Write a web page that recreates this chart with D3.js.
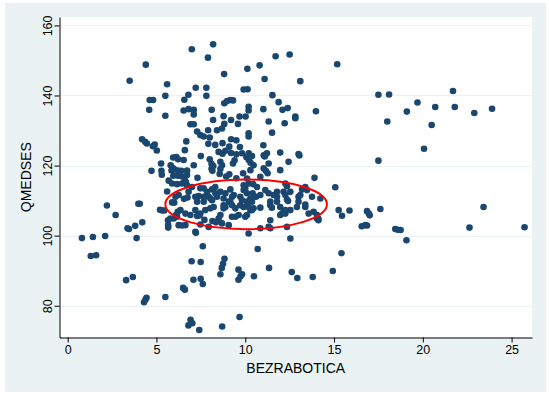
<!DOCTYPE html>
<html><head><meta charset="utf-8">
<script src="https://cdn.jsdelivr.net/npm/d3@7"></script>
<style>body{margin:0;background:#fff} text{font-family:"Liberation Sans",Arial,sans-serif}</style>
</head><body><svg id="c" width="549" height="396"></svg>
<script>
// [BEZRABOTICA, QMEDSES]
const observations = [
[8.19,154.6],[6.99,153.2],[7.9,150.8],[11.71,151.2],[12.5,151.7],[4.4,148.8],[10.81,148.6],[15.18,148.9],[10.12,147.6],[8.81,146.1],[11.09,144.7],[3.49,144.2],[13.1,144.1],[5.6,143.2],[7.21,142.2],[7.81,142.2],[9.91,141.7],[10.13,141.8],[21.7,141.3],[6.8,140.2],[7.81,139.9],[5.5,139.9],[11.53,140.1],[17.5,140.2],[18.1,140.3],[4.62,138.7],[4.81,138.7],[6.57,138.8],[8.82,137.8],[8.98,138.4],[9.16,138.7],[9.31,138.6],[11.88,138.1],[19.7,138.0],
[4.59,135.9],[6.53,135.7],[6.81,136.1],[7.1,135.9],[7.1,134.6],[8.11,135.9],[10.19,136.8],[10.19,135.7],[11.02,136.1],[12.1,135.9],[12.39,136.4],[13.98,135.5],[20.7,136.7],[21.8,136.7],[22.9,135.0],[23.9,136.2],[19.1,135.4],[5.5,134.2],[8.78,134.1],[9.68,134.0],[10.02,134.0],[12.82,134.0],[12.82,133.5],[8.19,133.0],[9.2,133.0],[11.32,132.6],[18.0,132.6],[12.22,132.1],[6.91,131.8],[7.1,131.8],[8.82,131.9],[9.59,131.9],[20.5,131.6],[7.91,130.1],[8.41,130.1],[8.69,130.6],
[7.29,129.7],[7.47,128.7],[7.66,128.3],[10.19,129.2],[10.19,128.3],[11.51,129.4],[8.0,128.0],[4.19,127.5],[4.36,126.8],[4.46,126.3],[6.68,126.9],[9.2,127.5],[9.5,127.2],[8.72,126.4],[4.9,126.0],[4.8,125.5],[5.02,124.3],[7.92,126.2],[8.31,125.9],[9.1,125.4],[9.7,125.3],[11.02,125.8],[6.6,124.4],[8.88,124.2],[20.07,124.8],
[8.5,123.9],[8.72,123.4],[9.2,123.6],[9.5,123.2],[9.82,123.5],[10.2,123.5],[10.38,122.7],[11.04,122.9],[11.22,123.5],[11.1,122.6],[11.97,123.7],[13.0,123.3],[13.05,122.9],[7.5,122.7],[5.94,122.3],[6.12,122.4],[6.22,121.8],[6.53,121.6],[8.0,121.8],[9.4,121.5],[10.07,122.4],[10.2,121.6],[10.3,120.8],[10.47,120.1],[11.32,120.6],[12.44,121.1],[17.5,121.4],[5.26,120.6],[7.1,120.1],[8.6,121.1],[8.69,120.1],[9.31,120.6],[8.1,120.5],
[5.8,120.1],[5.92,119.3],[5.85,118.6],[8.2,119.9],[8.1,119.1],[8.15,118.5],[11.04,119.2],[11.16,118.5],[11.26,117.8],[10.29,118.7],[11.97,118.7],[4.72,118.5],[5.28,118.5],[5.3,117.4],[6.02,118.9],[6.22,118.6],[6.4,118.5],[6.72,118.6],[5.95,117.1],[6.2,117.1],[6.45,116.9],[6.72,117.3],[7.31,116.5],[8.56,117.6],[8.93,116.9],[9.1,117.5],[9.5,116.4],[9.88,117.8],[10.85,116.8],[10.1,116.3],[13.9,116.5],[8.6,119.0],
[15.07,113.8],[6.6,115.8],[6.66,115.3],[5.69,115.7],[5.88,114.9],[6.16,114.7],[6.44,114.9],[6.72,114.4],[10.19,114.9],[10.45,114.7],[10.66,113.9],[12.26,114.9],[12.35,114.1],[13.38,113.9],[13.2,113.2],[7.0,113.9],[5.6,112.6],
[11.13,113.0],[11.32,112.1],[11.6,111.6],[11.79,112.5],[12.16,112.5],[12.26,111.6],[10.42,112.1],[10.61,111.1],[13.0,111.1],[13.76,111.1],[12.35,110.3],
[7.66,113.5],[7.85,112.5],[8.13,113.2],[8.32,112.1],[8.6,112.5],[8.88,112.1],[9.16,113.2],[7.19,111.1],[7.66,111.1],[8.04,110.6],[8.41,111.1],[8.78,110.6],[9.26,111.1],[9.72,111.1],[9.91,113.0],[10.1,112.1],
[8.31,113.9],[7.94,111.1],[8.13,110.1],[7.47,113.5],[7.38,111.3],[7.66,109.7],[6.81,112.5],[9.35,111.6],[9.07,109.7],[9.26,108.7],[8.88,108.2],[9.91,114.4],[10.0,113.5],[9.82,110.1],[10.1,109.7],[10.29,110.6],[10.19,108.2],[10.38,107.3],[9.91,108.2],[9.72,108.7],[10.85,111.6],[9.63,105.9],[10.0,105.4],[10.1,105.9],[8.6,105.9],[8.5,104.9],[8.78,107.8],[7.75,107.3],[7.47,106.3],[7.19,107.3],[6.63,106.3],[6.91,105.9],[11.79,109.7],[11.41,109.7],[12.54,112.5],[11.97,108.2],[12.54,107.3],[12.16,106.8],[13.0,109.7],[13.48,113.0],[13.1,111.6],[13.38,108.2],[13.57,106.3],[13.85,106.8],[14.04,105.9],[14.23,110.6],[15.26,107.3],[11.41,104.4],[11.97,105.9],[12.26,106.3],[12.35,102.5],[11.32,102.5],[10.19,100.6],[12.54,99.2],
[10.38,109.7],[10.29,107.3],[10.47,107.8],[10.85,108.0],[11.41,108.7],[11.5,108.0],[11.79,111.1],[12.41,109.9],[12.91,108.2],[13.38,108.9],[14.04,104.9],[15.45,105.7],[12.07,106.3],[12.26,107.3],[10.85,102.1],[11.41,102.1],
[5.88,109.5],[6.0,109.4],[6.2,106.8],[6.35,107.3],[6.1,105.9],[5.97,104.9],[6.16,105.4],[5.65,104.4],[5.78,104.9],[5.66,103.0],[5.66,102.3],[6.25,103.0],[6.44,102.9],[6.63,103.0],[6.55,110.5],[6.75,110.9],[6.07,111.1],[6.25,111.6],[7.29,109.7],
[7.29,105.6],[7.43,105.8],[7.47,103.2],[7.19,101.1],[7.7,104.5],[7.94,102.5],[8.15,104.2],[8.35,103.8],[8.69,103.5],[9.07,103.0],[8.03,107.8],[8.22,108.2],[8.78,108.7],[9.16,109.7],[9.44,107.8],[9.25,105.4],[9.45,105.4],
[5.2,107.4],[5.32,107.2],[5.44,107.2],
[0.8,99.3],[1.42,99.6],[2.11,99.9],[1.3,94.2],[1.6,94.4],[3.88,99.3],[3.37,102.1],[3.45,101.9],[3.8,102.8],[4.2,103.8],[2.21,108.6],[2.7,105.9],[3.98,109.1],[4.06,109.1],[3.29,87.3],[3.67,88.2],[4.3,81.0],[4.38,81.8],[4.44,82.3],[5.5,82.5],[6.5,85.1],[6.6,84.6],[6.8,74.4],[6.92,76.0],[7.02,75.0],[7.41,73.1],[8.7,74.1],[9.68,76.8],[6.98,92.7],[7.49,92.5],[7.08,87.4],[7.49,87.7],[7.61,86.2],[7.61,97.0],[7.22,100.8],[8.6,89.0],[8.68,90.8],[8.75,92.0],[8.83,93.4],[9.62,90.3],[9.62,87.4],[9.74,88.4],[9.82,89.0],[10.49,88.4],[10.7,96.2],[11.34,90.8],[12.62,89.6],[12.93,87.9],[13.8,88.2],[14.93,89.9],[15.42,95.0],[19.08,98.7],
[14.12,104.8],[14.12,104.4],[15.87,107.2],[16.56,102.7],[16.76,103.0],[16.86,102.9],[16.86,107.0],[16.96,106.3],[17.01,105.8],[17.61,107.6],[18.45,101.9],[18.59,101.7],[18.75,101.6],[23.42,108.2],[22.63,102.3],[25.73,102.4]
];
const xTicks = [0,5,10,15,20,25];
const yTicks = [80,100,120,140,160];
const xTitle = "BEZRABOTICA";
const yTitle = "QMEDSES";
const ellipseCenter = [10.05,108.94];
const ellipseRadii = [4.55,7.09];

const svg = d3.select("#c");
const L=59.5, R=532, T=17, B=337.5;
const x = d3.scaleLinear().domain([-0.461, 26.15]).range([L, R]);
const y = d3.scaleLinear().domain([70.94, 162.4]).range([B, T]);

svg.append("rect").attr("x",5).attr("y",3).attr("width",541).attr("height",389).attr("fill","#eaf2f3");
svg.append("rect").attr("x",L).attr("y",T).attr("width",R-L).attr("height",B-T).attr("fill","#fff");

svg.append("g").selectAll("line").data(yTicks).join("line")
  .attr("x1",L).attr("x2",R).attr("y1",d=>Math.round(y(d))+0.5).attr("y2",d=>Math.round(y(d))+0.5)
  .attr("stroke","#eaf2f3").attr("stroke-width",1);

svg.append("g").selectAll("circle").data(observations).join("circle")
  .attr("cx",d=>x(d[0])).attr("cy",d=>y(d[1])).attr("r",3.3).attr("fill","#1a476f");

svg.append("ellipse")
  .attr("cx",x(ellipseCenter[0])).attr("cy",y(ellipseCenter[1]))
  .attr("rx",x(ellipseCenter[0]+ellipseRadii[0])-x(ellipseCenter[0]))
  .attr("ry",y(ellipseCenter[1])-y(ellipseCenter[1]+ellipseRadii[1]))
  .attr("fill","none").attr("stroke","#ff0000").attr("stroke-width",2);

const xa = svg.append("g").attr("transform",`translate(0,${B})`)
  .call(d3.axisBottom(x).tickValues(xTicks).tickSize(5).tickPadding(3).tickSizeOuter(0));
const ya = svg.append("g").attr("transform",`translate(${L},0)`)
  .call(d3.axisLeft(y).tickValues(yTicks).tickSize(5).tickPadding(3).tickSizeOuter(0));
[xa,ya].forEach(g=>{g.select(".domain").attr("stroke","#000");g.selectAll(".tick line").attr("stroke","#000");
  g.selectAll("text").attr("fill","#000").style("font-size","12.5px").style("font-family",'"Liberation Sans",Arial,sans-serif');});
ya.selectAll(".tick text").attr("transform",function(){return null;})
  .each(function(d){const t=d3.select(this);t.attr("x",null).attr("dy",null).attr("text-anchor","middle")
   .attr("transform",`translate(-12,0) rotate(-90)`).attr("dy","0.35em");});

svg.append("text").attr("x",(L+R)/2).attr("y",373).attr("text-anchor","middle")
  .style("font-size","14px").text(xTitle);
svg.append("text").attr("transform",`translate(31,${(T+B)/2}) rotate(-90)`).attr("text-anchor","middle")
  .style("font-size","14px").text(yTitle);
</script></body></html>
